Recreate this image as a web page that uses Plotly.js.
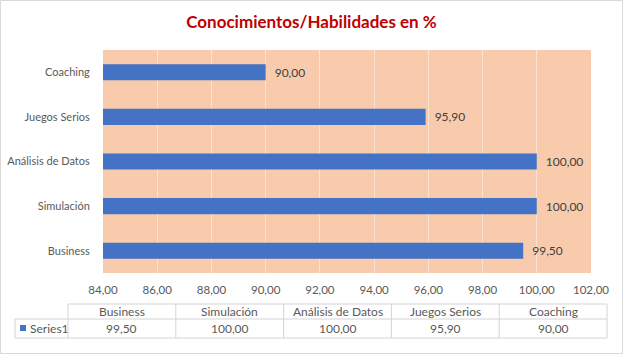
<!DOCTYPE html>
<html>
<head>
<meta charset="utf-8">
<script src="https://cdn.plot.ly/plotly-3.0.1.min.js"></script>
<style>
html,body{margin:0;padding:0;background:#fff;}
#chart{width:623px;height:354px;}
</style>
</head>
<body>
<div id="chart"></div>
<script>
// Data
const categories = ["Business", "Simulación", "Análisis de Datos", "Juegos Serios", "Coaching"];
const values = [99.5, 100.0, 100.0, 95.9, 90.0];
const seriesName = "Series1";
const xTicks = [84, 86, 88, 90, 92, 94, 96, 98, 100, 102];
const titleText = "Conocimientos/Habilidades en %";

const W = 623, H = 354;
const px = x => x / W;
const py = y => 1 - y / H;
const FONT = "Lato, 'Open Sans', sans-serif";
const fmt = v => v.toFixed(2).replace('.', ',');

// table geometry
const tblLeft = 15, colStart = 68, colW = 107.8, hdrTop = 304, rowMid = 319, rowBot = 338;
const tblRight = colStart + colW * categories.length;

const shapes = [];
const annotations = [];
const lineStyle = {color: "#D4D4D4", width: 1};
// outer border
shapes.push({type: "rect", xref: "paper", yref: "paper", x0: px(0.5), x1: px(622.5), y0: py(0.5), y1: py(353.5), line: {color: "#D9D9D9", width: 1}});
// header top line
shapes.push({type: "line", xref: "paper", yref: "paper", x0: px(colStart), x1: px(tblRight), y0: py(hdrTop), y1: py(hdrTop), line: lineStyle});
// mid line & bottom line
[rowMid, rowBot].forEach(y => shapes.push({type: "line", xref: "paper", yref: "paper", x0: px(tblLeft), x1: px(tblRight), y0: py(y), y1: py(y), line: lineStyle}));
// left border
shapes.push({type: "line", xref: "paper", yref: "paper", x0: px(tblLeft), x1: px(tblLeft), y0: py(rowMid), y1: py(rowBot), line: lineStyle});
// column lines
for (let i = 0; i <= categories.length; i++) {
  const x = colStart + colW * i;
  shapes.push({type: "line", xref: "paper", yref: "paper", x0: px(x), x1: px(x), y0: py(hdrTop), y1: py(rowBot), line: lineStyle});
}
// legend square
shapes.push({type: "rect", xref: "paper", yref: "paper", x0: px(20), x1: px(26), y0: py(331), y1: py(325), fillcolor: "#4472C4", line: {width: 0}});

const tfont = {family: FONT, size: 12, color: "#595959"};
categories.forEach((c, i) => {
  const cx = colStart + colW * (i + 0.5);
  annotations.push({xref: "paper", yref: "paper", x: px(cx), y: py((hdrTop + rowMid) / 2), text: c, showarrow: false, xanchor: "center", yanchor: "middle", font: tfont});
  annotations.push({xref: "paper", yref: "paper", x: px(cx), y: py((rowMid + rowBot) / 2), text: fmt(values[i]), showarrow: false, xanchor: "center", yanchor: "middle", font: tfont});
});
annotations.push({xref: "paper", yref: "paper", x: px(28), y: py((rowMid + rowBot) / 2), text: seriesName, showarrow: false, xanchor: "left", yanchor: "middle", font: tfont});

const trace = {
  type: "bar",
  orientation: "h",
  y: categories,
  x: values,
  name: seriesName,
  marker: {color: "#4472C4", line: {width: 0}},
  text: values.map(v => "\u2002" + fmt(v)),
  textposition: "outside",
  cliponaxis: false,
  textfont: {family: FONT, size: 12, color: "#404040"},
  hoverinfo: "none"
};

const layout = {
  width: W, height: H,
  margin: {l: 0, r: 0, t: 0, b: 0},
  paper_bgcolor: "#ffffff",
  plot_bgcolor: "#F8CBAD",
  separators: ",.",
  showlegend: false,
  bargap: 0.64,
  title: {text: "<b>" + titleText + "</b>", x: 0.5, xanchor: "center", y: py(22), yanchor: "middle", yref: "paper",
          font: {family: FONT, size: 17, color: "#C00000"}},
  xaxis: {
    domain: [px(103), px(591)],
    range: [84, 102],
    tickvals: xTicks,
    ticktext: xTicks.map(fmt),
    showgrid: true,
    gridcolor: "rgba(255,255,255,0.45)",
    gridwidth: 1,
    zeroline: false,
    showline: false,
    ticks: "outside", ticklen: 6, tickcolor: "rgba(0,0,0,0)",
    tickfont: {family: FONT, size: 11.5, color: "#595959"},
    fixedrange: true
  },
  yaxis: {
    domain: [py(273), py(50)],
    type: "category",
    categoryorder: "array",
    categoryarray: categories,
    range: [-0.5, 4.5],
    showgrid: false,
    zeroline: false,
    showline: false,
    ticks: "outside", ticklen: 10, tickcolor: "rgba(0,0,0,0)",
    tickfont: {family: FONT, size: 11, color: "#595959"},
    fixedrange: true
  },
  shapes: shapes,
  annotations: annotations
};

Plotly.newPlot("chart", [trace], layout, {displayModeBar: false, staticPlot: true});
</script>
</body>
</html>
